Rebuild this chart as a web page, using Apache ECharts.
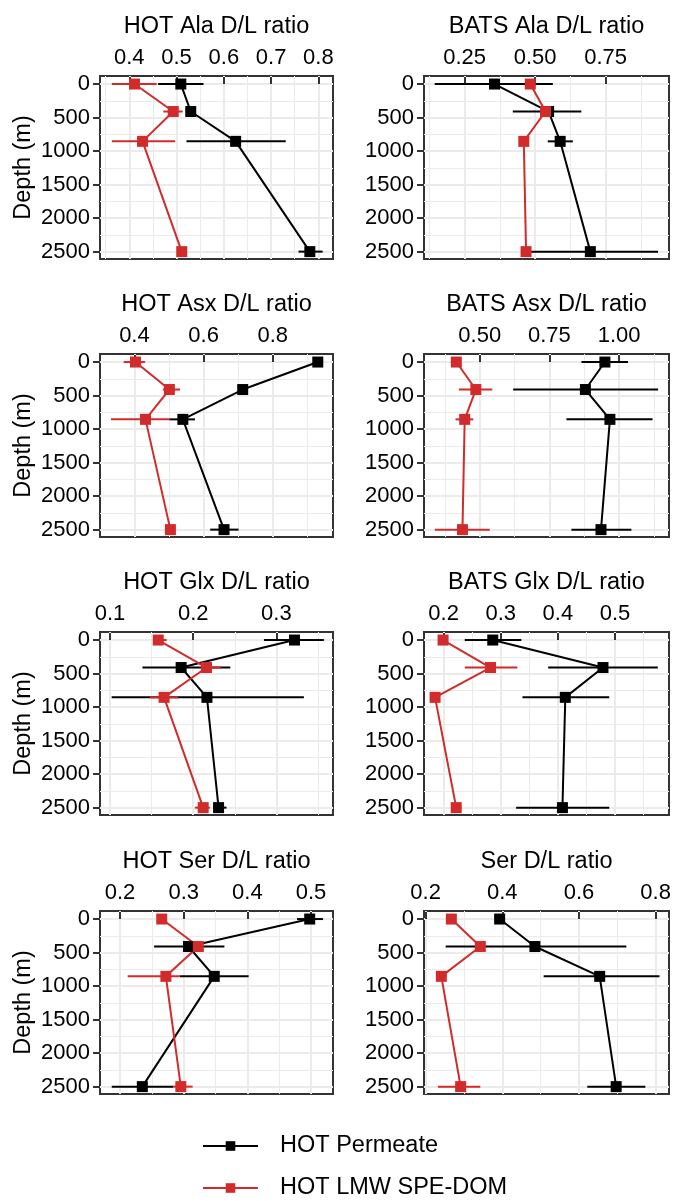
<!DOCTYPE html>
<html><head><meta charset="utf-8">
<script src="https://cdn.jsdelivr.net/npm/echarts@6/dist/echarts.min.js"></script>
<style>html,body{margin:0;padding:0;background:#fff}#c{width:673px;height:1201px}</style>
</head><body><div id="c"></div>
<script>
// ---- data ----
const depths = [0, 410, 855, 2500];
const yTicks = [0, 500, 1000, 1500, 2000, 2500];
const yMinor = [250, 750, 1250, 1750, 2250];
const titles = ['HOT Ala D/L ratio', 'BATS Ala D/L ratio', 'HOT Asx D/L ratio', 'BATS Asx D/L ratio',
                'HOT Glx D/L ratio', 'BATS Glx D/L ratio', 'HOT Ser D/L ratio', 'Ser D/L ratio'];
const seriesNames = ['HOT Permeate', 'HOT LMW SPE-DOM'];

// x tick labels per panel
const xTicks = [
  [0.4, 0.5, 0.6, 0.7, 0.8], [0.25, 0.50, 0.75], [0.4, 0.6, 0.8], [0.50, 0.75, 1.00],
  [0.1, 0.2, 0.3], [0.2, 0.3, 0.4, 0.5], [0.2, 0.3, 0.4, 0.5], [0.2, 0.4, 0.6, 0.8]
];
const xMinor = [
  [0.35, 0.45, 0.55, 0.65, 0.75], [0.125, 0.375, 0.625, 0.875], [0.5, 0.7, 0.9], [0.375, 0.625, 0.875, 1.125],
  [0.15, 0.25, 0.35], [0.25, 0.35, 0.45, 0.55], [0.25, 0.35, 0.45], [0.3, 0.5, 0.7]
];
const xDecimals = [1, 2, 1, 2, 1, 1, 1, 1];
const xMin = [0.338, 0.106, 0.3005, 0.300, 0.088, 0.1656, 0.1685, 0.1957];
const xMax = [0.831, 0.975, 0.974, 1.179, 0.368, 0.5946, 0.5346, 0.8348];

// HOT Ala
const hotAlaPerm = [0.509, 0.530, 0.625, 0.782];
const hotAlaPermLo = [0.461, 0.522, 0.521, 0.758];
const hotAlaPermHi = [0.557, 0.538, 0.731, 0.809];
const hotAlaLmw = [0.411, 0.493, 0.428, 0.511];
const hotAlaLmwLo = [0.363, 0.472, 0.363, 0.505];
const hotAlaLmwHi = [0.458, 0.513, 0.497, 0.517];
// BATS Ala
const batsAlaPerm = [0.356, 0.548, 0.589, 0.696];
const batsAlaPermLo = [0.144, 0.421, 0.545, 0.455];
const batsAlaPermHi = [0.563, 0.664, 0.634, 0.936];
const batsAlaLmw = [0.483, 0.537, 0.460, 0.468];
const batsAlaLmwLo = [0.475, 0.530, 0.453, 0.461];
const batsAlaLmwHi = [0.491, 0.544, 0.467, 0.475];
// HOT Asx
const hotAsxPerm = [0.930, 0.713, 0.540, 0.659];
const hotAsxPermLo = [0.917, 0.706, 0.501, 0.619];
const hotAsxPermHi = [0.943, 0.720, 0.575, 0.701];
const hotAsxLmw = [0.403, 0.501, 0.432, 0.504];
const hotAsxLmwLo = [0.369, 0.482, 0.332, 0.498];
const hotAsxLmwHi = [0.431, 0.532, 0.503, 0.510];
// BATS Asx
const batsAsxPerm = [0.949, 0.879, 0.967, 0.935];
const batsAsxPermLo = [0.865, 0.620, 0.811, 0.829];
const batsAsxPermHi = [1.032, 1.140, 1.120, 1.044];
const batsAsxLmw = [0.416, 0.486, 0.446, 0.438];
const batsAsxLmwLo = [0.396, 0.425, 0.413, 0.339];
const batsAsxLmwHi = [0.432, 0.545, 0.477, 0.536];
// HOT Glx
const hotGlxPerm = [0.3217, 0.1855, 0.2165, 0.2305];
const hotGlxPermLo = [0.285, 0.139, 0.102, 0.224];
const hotGlxPermHi = [0.357, 0.2446, 0.333, 0.240];
const hotGlxLmw = [0.158, 0.216, 0.165, 0.212];
const hotGlxLmwLo = [0.152, 0.209, 0.148, 0.202];
const hotGlxLmwHi = [0.168, 0.233, 0.182, 0.220];
// BATS Glx
const batsGlxPerm = [0.286, 0.479, 0.413, 0.408];
const batsGlxPermLo = [0.237, 0.383, 0.338, 0.327];
const batsGlxPermHi = [0.336, 0.575, 0.490, 0.490];
const batsGlxLmw = [0.199, 0.282, 0.185, 0.222];
const batsGlxLmwLo = [0.194, 0.237, 0.180, 0.213];
const batsGlxLmwHi = [0.204, 0.329, 0.190, 0.231];
// HOT Ser
const hotSerPerm = [0.498, 0.3075, 0.348, 0.235];
const hotSerPermLo = [0.478, 0.2535, 0.294, 0.187];
const hotSerPermHi = [0.519, 0.364, 0.402, 0.284];
const hotSerLmw = [0.2655, 0.323, 0.272, 0.2955];
const hotSerLmwLo = [0.260, 0.316, 0.212, 0.284];
const hotSerLmwHi = [0.271, 0.330, 0.294, 0.314];
// Ser
const serPerm = [0.393, 0.485, 0.654, 0.697];
const serPermLo = [0.387, 0.2522, 0.5078, 0.6217];
const serPermHi = [0.399, 0.7235, 0.810, 0.773];
const serLmw = [0.267, 0.3426, 0.2409, 0.2913];
const serLmwLo = [0.2565, 0.3296, 0.2287, 0.232];
const serLmwHi = [0.278, 0.3513, 0.2543, 0.3426];

const panels = [
  [hotAlaPerm, hotAlaPermLo, hotAlaPermHi, hotAlaLmw, hotAlaLmwLo, hotAlaLmwHi],
  [batsAlaPerm, batsAlaPermLo, batsAlaPermHi, batsAlaLmw, batsAlaLmwLo, batsAlaLmwHi],
  [hotAsxPerm, hotAsxPermLo, hotAsxPermHi, hotAsxLmw, hotAsxLmwLo, hotAsxLmwHi],
  [batsAsxPerm, batsAsxPermLo, batsAsxPermHi, batsAsxLmw, batsAsxLmwLo, batsAsxLmwHi],
  [hotGlxPerm, hotGlxPermLo, hotGlxPermHi, hotGlxLmw, hotGlxLmwLo, hotGlxLmwHi],
  [batsGlxPerm, batsGlxPermLo, batsGlxPermHi, batsGlxLmw, batsGlxLmwLo, batsGlxLmwHi],
  [hotSerPerm, hotSerPermLo, hotSerPermHi, hotSerLmw, hotSerLmwLo, hotSerLmwHi],
  [serPerm, serPermLo, serPermHi, serLmw, serLmwLo, serLmwHi]
];

// ---- layout / style ----
const FONT = 'Liberation Sans, Arial, sans-serif';
const FS = 22, FS_T = 23.5;
const colors = ['#000000', '#D22B2B'];
const colLeft = [100, 424], colWidth = [233, 245];
const rowTop = [76, 354, 632, 911], panelH = 183;
const yMin = -120, yMax = 2610;
const gridColor = '#EBEBEB';

const grids = [], xAxes = [], yAxes = [], series = [], titleArr = [];

function pts(vals) { return vals.map((v, i) => [v, depths[i]]); }
function errs(lo, hi) { return lo.map((l, i) => [l, hi[i], depths[i]]); }
function errRenderer(color) {
  return function (params, api) {
    const a = api.coord([api.value(0), api.value(2)]);
    const b = api.coord([api.value(1), api.value(2)]);
    return { type: 'line', shape: { x1: a[0], y1: a[1], x2: b[0], y2: b[1] },
      style: { stroke: color, lineWidth: 2 } };
  };
}

panels.forEach((p, i) => {
  const col = i % 2, row = Math.floor(i / 2);
  const left = colLeft[col], top = rowTop[row], w = colWidth[col];
  grids.push({ left: left, top: top, width: w, height: panelH, show: true,
    borderColor: '#333333', borderWidth: 2, backgroundColor: '#fff', containLabel: false, outerBoundsMode: 'none' });
  titleArr.push({ text: titles[i], left: left + w / 2, top: top - 61, textAlign: 'center', padding: 0,
    textStyle: { fontFamily: FONT, fontSize: FS_T, fontWeight: 'normal', color: '#000' } });
  const dec = xDecimals[i];
  xAxes.push({ gridIndex: i, type: 'value', position: 'top', min: xMin[i], max: xMax[i],
    axisLine: { show: false },
    axisTick: { show: true, length: 7, customValues: xTicks[i], lineStyle: { color: '#333', width: 2 } },
    axisLabel: { show: true, customValues: xTicks[i], margin: 7, fontFamily: FONT, fontSize: FS, color: '#000',
      formatter: v => Number(v).toFixed(dec) },
    splitLine: { show: true, lineStyle: { color: gridColor, width: 2 } } });
  xAxes.push({ gridIndex: i, type: 'value', position: 'bottom', min: xMin[i], max: xMax[i],
    axisLine: { show: false }, axisTick: { show: false, customValues: xMinor[i] }, axisLabel: { show: false },
    splitLine: { show: true, lineStyle: { color: gridColor, width: 1 } } });
  yAxes.push({ gridIndex: i, type: 'value', inverse: true, min: yMin, max: yMax, position: 'left',
    name: col === 0 ? 'Depth (m)' : '', nameLocation: 'middle', nameRotate: 90, nameGap: 64,
    nameTextStyle: { fontFamily: FONT, fontSize: FS_T, color: '#000' },
    axisLine: { show: false },
    axisTick: { show: true, length: 7, customValues: yTicks, lineStyle: { color: '#333', width: 2 } },
    axisLabel: { show: true, customValues: yTicks, margin: 10, fontFamily: FONT, fontSize: FS, color: '#000',
      formatter: v => String(Math.round(v)) },
    splitLine: { show: true, lineStyle: { color: gridColor, width: 2 } } });
  yAxes.push({ gridIndex: i, type: 'value', inverse: true, min: yMin, max: yMax, position: 'right',
    axisLine: { show: false }, axisTick: { show: false, customValues: yMinor }, axisLabel: { show: false },
    splitLine: { show: true, lineStyle: { color: gridColor, width: 1 } } });

  const xi = 2 * i, yi = 2 * i;
  [0, 1].forEach(s => {
    series.push({ type: 'custom', xAxisIndex: xi, yAxisIndex: yi, silent: true, z: 2,
      data: errs(p[s * 3 + 1], p[s * 3 + 2]), encode: { x: [0, 1], y: 2 },
      renderItem: errRenderer(colors[s]), animation: false });
  });
  [0, 1].forEach(s => {
    series.push({ type: 'line', name: seriesNames[s], xAxisIndex: xi, yAxisIndex: yi, z: 3,
      data: pts(p[s * 3]), symbol: 'rect', symbolSize: 11,
      itemStyle: { color: colors[s] }, lineStyle: { color: colors[s], width: 2 }, animation: false });
  });
});

const legendBase = { orient: 'vertical', left: 202, padding: 0, itemWidth: 55, itemHeight: 12,
  textStyle: { fontFamily: FONT, fontSize: FS_T, color: '#000', padding: [0, 0, 0, 17] } };

const chart = echarts.init(document.getElementById('c'), null, { renderer: 'canvas' });
chart.setOption({
  animation: false,
  backgroundColor: '#fff',
  title: titleArr,
  grid: grids,
  xAxis: xAxes,
  yAxis: yAxes,
  legend: [
    Object.assign({}, legendBase, { data: [seriesNames[0]], top: 1134 }),
    Object.assign({}, legendBase, { data: [seriesNames[1]], top: 1176 })
  ],
  series: series
});
</script></body></html>
